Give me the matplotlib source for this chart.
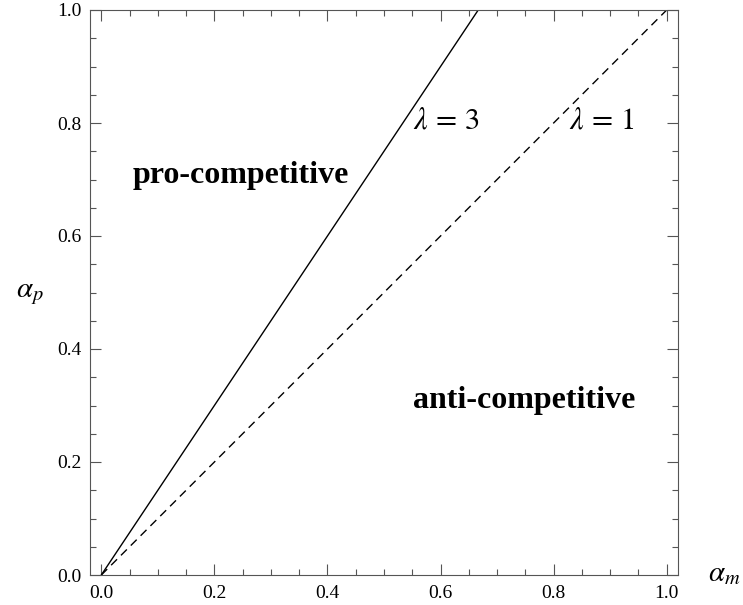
import numpy as np
import matplotlib.pyplot as plt
from matplotlib.ticker import MultipleLocator, FormatStrFormatter

plt.rcParams['font.family'] = ['Liberation Serif', 'DejaVu Serif']
plt.rcParams['mathtext.fontset'] = 'stix'

# boundary lines alpha_p = slope * alpha_m
lambdas = [3, 1]
slopes = [1.5, 1.0]
styles = ['-', '--']
am = np.array([0.0, 1.0])

fig = plt.figure(figsize=(7.43, 6.05), dpi=100)
ax = fig.add_axes([90/743, 30/605, 588/743, 565/605])

for lam, s, ls in zip(lambdas, slopes, styles):
    if ls == '--':
        ax.plot(am, s*am, color='black', lw=1.0, ls=ls, dashes=(6, 4))
    else:
        ax.plot(am, s*am, color='black', lw=1.0, ls=ls)

ax.set_xlim(-0.02, 1.02)
ax.set_ylim(0, 1)

ax.text(0.551, 0.7906, r'$\lambda\,=\,3$', fontsize=22, ha='left', va='baseline')
ax.text(0.828, 0.7906, r'$\lambda\,=\,1$', fontsize=22, ha='left', va='baseline')
ax.text(0.0558, 0.694, 'pro-competitive', fontsize=23, fontweight='bold', ha='left', va='baseline')
ax.text(0.5505, 0.2956, 'anti-competitive', fontsize=23, fontweight='bold', ha='left', va='baseline')

ax.text(1.051, 0.002, r'$\alpha_m$', fontsize=21, ha='left', va='center', transform=ax.transAxes)
ax.text(-0.102, 0.498, r'$\alpha_p$', fontsize=21, ha='center', va='center', transform=ax.transAxes)

for a in (ax.xaxis, ax.yaxis):
    a.set_major_locator(MultipleLocator(0.2))
    a.set_minor_locator(MultipleLocator(0.05))
    a.set_major_formatter(FormatStrFormatter('%.1f'))
ax.tick_params(which='both', direction='in', top=True, right=True, color='#555555', width=0.8, labelsize=14)
ax.tick_params(which='major', length=8)
ax.tick_params(which='minor', length=4.5)
ax.tick_params(axis='x', pad=7)
ax.tick_params(axis='y', pad=5.8)
for sp in ax.spines.values():
    sp.set_color('#555555')
    sp.set_linewidth(0.8)

fig.savefig('out.png', dpi=100)
